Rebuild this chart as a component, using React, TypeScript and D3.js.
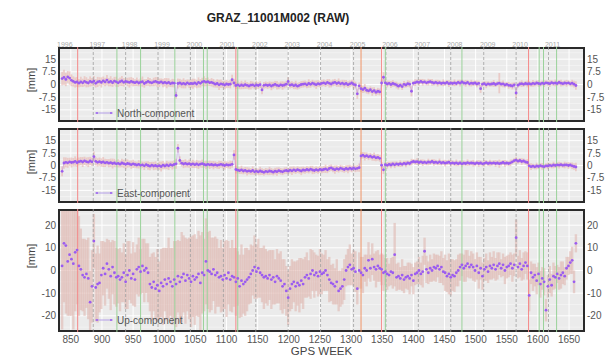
import React from 'react';
import * as d3 from 'd3';

// GPS weeks of the weekly solutions (one sample every third week)
const weeks: number[] = d3.range(836, 1662, 3);

const northMm: number[] = [
  3.5, 4.2, 3.0, 4.5, 3.8, 2.5, 1.8, 1.2, 1.5, 0.8,
  1.6, 1.0, 1.9, 1.3, 0.9, 1.8, 1.4, 2.0, 0.7, 1.5,
  1.8, 1.2, 2.2, 1.5, 2.6, 1.4, 1.9, 1.1, 2.0, 1.6,
  1.0, 1.7, 2.1, 1.3, 1.8, 1.5, 1.2, 1.9, 1.4, 1.1,
  1.6, 0.9, 1.4, 1.7, 0.6, 1.2, 1.8, 1.3, 1.0, 1.5,
  1.9, 1.4, 1.1, 1.6, 0.9, 1.3, 0.8, 1.2, 0.5, 0.9,
  0.8, -6.5, 0.6, 0.9, 0.3, 0.7, 0.2, 1.0, 0.4, 0.6,
  0.5, 0.9, 0.3, 1.2, 0.7, 1.5, 1.9, 1.4, 1.7, 1.1,
  1.3, 0.8, 0.2, 0.6, -0.2, 0.4, 0.1, -0.3, 0.3, 0.0,
  0.2, 2.8, 0.9, -0.6, -0.2, -0.8, -0.3, -0.7, -0.1, -0.5,
  -0.9, -0.4, -0.2, -0.8, -0.3, -0.6, -0.1, -3.2, -0.5, -0.2,
  -0.6, -0.2, -0.9, -0.4, 0.1, -0.5, -0.8, -0.2, -0.6, -0.3,
  0.2, 1.8, -0.4, -0.1, -0.7, -0.3, -1.0, -0.5, 0.0, 0.2,
  0.4, -0.2, 0.6, 0.1, 0.8, 0.3, -0.1, 0.5, 0.2, 0.7,
  1.0, 0.5, 1.2, 0.7, 0.3, 0.9, 1.3, 0.6, 1.1, 0.4,
  0.8, 0.2, 0.6, -0.1, 0.4, 0.9, 0.1, -0.3, -5.5, -0.8,
  -2.5, -3.0, -2.2, -3.4, -3.8, -3.1, -4.2, -3.6, -4.6, -4.0,
  -4.4, 0.9, 4.3, 1.0, 0.3, 0.7, 0.0, 0.6, 0.2, -0.3,
  -1.0, -0.4, -1.2, 0.1, -0.3, 0.5, 0.2, -4.0, 0.8, 1.1,
  1.5, 1.2, 1.8, 1.3, 1.6, 1.0, 1.4, 1.7, 1.2, 0.9,
  1.3, 0.8, 1.1, 0.6, 1.0, 0.7, 1.2, 0.5, 0.9, 0.6,
  1.0, 0.6, 1.3, 0.8, 1.5, 0.9, 0.7, 1.2, 0.4, 0.8,
  0.6, 0.9, 0.3, 0.7, -2.5, 0.2, 0.5, -0.2, 0.4, 0.1,
  0.3, 0.6, 0.0, 0.5, 0.8, 0.2, 0.4, -0.3, 0.1, -0.5,
  -0.6, -0.9, -0.2, -5.0, -0.4, 0.3, 0.5, 0.1, 0.6, 0.3,
  0.5, 0.2, 0.7, 0.4, 0.9, 0.6, 0.3, 0.8, 0.5, 1.0,
  0.8, 0.5, 1.1, 0.7, 0.9, 0.6, 1.2, 0.8, 0.5, 0.9,
  0.7, 1.0, 0.4, 0.8, 0.2, -0.6,
];

const northSigma: number[] = [
  4, 4.5, 4, 3.5, 4, 3.5, 3, 3, 3, 2.5,
  3, 2.5, 3, 3, 2.5, 3, 2.5, 3, 2.5, 3,
  2.5, 3, 2.5, 2.5, 3, 2.5, 3, 2.5, 2.5, 3,
  2.5, 2.5, 3, 2.5, 2, 2.5, 3, 2.5, 2.5, 2,
  2.5, 2, 2.5, 3, 2.5, 2, 2.5, 2.5, 2, 2.5,
  2.5, 3, 2.5, 2, 2.5, 2.5, 3, 2.5, 2, 2.5,
  2.5, 2, 3, 2.5, 2.5, 3, 2.5, 2, 2.5, 2.5,
  3, 2.5, 2.5, 3, 2.5, 2.5, 3, 2.5, 2.5, 2,
  2.5, 2.5, 2, 2.5, 3, 2.5, 2, 2.5, 2.5, 2,
  2.5, 3, 2.5, 2, 2.5, 2, 2.5, 2, 2.5, 2,
  2, 2.5, 2, 2, 2.5, 2, 2, 2.5, 2, 2,
  2, 2, 2.5, 2, 2, 2.5, 2, 2, 2.5, 2,
  2, 2.5, 2, 2, 2, 2.5, 2, 2, 2, 2,
  2, 2, 2.5, 2, 2, 2, 2.5, 2, 2, 2,
  2, 2, 2, 2.5, 2, 2, 2, 2, 2.5, 2,
  2, 2.5, 2, 2, 2, 2, 2.5, 2, 3, 2,
  2, 2, 2.5, 2, 2, 2, 2.5, 2, 2, 2,
  2, 2, 3, 2, 2, 1.5, 2, 2, 1.5, 2,
  2, 1.5, 2, 2, 1.5, 2, 2, 3, 1.5, 2,
  1.5, 2, 1.5, 2, 1.5, 1.5, 2, 1.5, 2, 1.5,
  1.5, 2, 1.5, 1.5, 2, 1.5, 1.5, 2, 1.5, 1.5,
  2, 1.5, 1.5, 2, 1.5, 1.5, 2, 1.5, 1.5, 2,
  1.5, 1.5, 2, 1.5, 2.5, 1.5, 1.5, 2, 1.5, 1.5,
  1.5, 2, 1.5, 1.5, 6, 1.5, 2, 1.5, 1.5, 2,
  1.5, 2, 1.5, 3, 1.5, 1.5, 2, 1.5, 1.5, 2,
  1.5, 1.5, 2, 1.5, 1.5, 2, 1.5, 1.5, 2, 1.5,
  1.5, 2, 1.5, 1.5, 2, 1.5, 1.5, 2, 1.5, 1.5,
  2, 1.5, 1.5, 2, 2, 2.5,
];

const eastMm: number[] = [
  -3.5, 1.5, 1.9, 1.6, 2.2, 1.8, 2.0, 2.5, 1.7, 2.3,
  2.6, 2.1, 2.8, 2.3, 2.0, 2.7, 2.2, 5.4, 2.5, 1.9,
  2.3, 1.8, 2.1, 1.6, 1.9, 1.4, 1.7, 1.2, 1.5, 1.0,
  1.3, 0.8, 1.5, 1.1, 0.7, 1.2, 0.9, 0.5, 1.0, 0.6,
  0.3, 0.7, 0.1, 0.4, -0.2, 0.5, 0.0, -0.4, 0.2, -0.3,
  0.0, -0.5, -0.1, -0.6, 0.2, -0.3, 0.3, -0.2, 0.5, 0.1,
  0.6, 1.0, 10.4, 3.0, 1.4, 0.9, 1.3, 0.8, 1.1, 0.6,
  1.0, 0.5, 0.9, 0.4, 0.8, 1.1, 0.6, 0.3, 0.7, 0.4,
  0.6, 0.2, 0.5, 0.1, 0.4, 0.7, 0.3, 0.0, 0.5, 0.2,
  0.4, 0.7, 6.4, -2.4, -2.8, -3.1, -2.6, -3.3, -2.9, -3.5,
  -3.2, -3.6, -3.0, -3.8, -3.4, -3.9, -3.3, -3.7, -4.1, -3.5,
  -3.8, -3.3, -3.6, -4.0, -3.4, -3.7, -3.1, -3.5, -3.8, -3.2,
  -3.0, -3.4, -2.8, -3.2, -2.6, -3.1, -2.5, -2.9, -3.3, -2.7,
  -2.9, -2.4, -2.8, -2.2, -2.7, -3.0, -2.5, -2.9, -2.3, -2.7,
  -2.4, -2.0, -2.6, -1.8, -1.4, -2.1, -2.5, -1.9, -2.3, -1.6,
  -2.0, -2.4, -1.8, -2.2, -1.6, -2.1, -1.5, -2.0, -1.7, -1.3,
  5.8, 6.2, 5.5, 5.9, 5.2, 5.6, 4.9, 5.3, 4.6, 4.9,
  4.3, 0.2, -2.6, 0.5, 0.1, 0.7, 0.3, 0.9, 0.4, 1.0,
  0.6, 1.1, 0.7, 1.3, 0.9, 1.5, 1.2, 2.0, 2.4, 2.1,
  2.3, 1.8, 2.2, 1.7, 2.0, 1.6, 2.1, 1.9, 2.4, 1.8,
  2.0, 1.6, 2.2, 1.5, 1.9, 1.4, 1.7, 2.0, 1.3, 1.6,
  1.2, 1.6, 1.1, 1.5, 1.0, 1.4, 1.2, 1.7, 1.3, 1.5,
  1.4, 1.1, 1.6, 1.2, 1.5, 1.0, 1.3, 1.7, 1.2, 1.5,
  1.3, 1.6, 1.2, 1.5, 1.1, 1.4, 1.8, 1.3, 1.5, 1.2,
  1.6, 2.2, 2.9, 3.3, 2.6, 3.0, 2.4, 2.7, 2.1, 1.8,
  -0.2, -0.7, -0.4, -0.8, -0.3, -0.6, -0.1, -0.5, -0.7, -0.2,
  -0.3, 0.1, -0.2, 0.3, 0.0, 0.4, 0.2, 0.5, 0.1, 0.3,
  0.4, 0.0, 0.3, -0.2, -0.6, -0.9,
];

const eastSigma: number[] = [
  3, 3.5, 3, 3, 2.5, 3, 2.5, 3, 2.5, 2.5,
  2.5, 3, 2.5, 2.5, 3, 2.5, 2.5, 3, 2.5, 2.5,
  2.5, 2.5, 3, 2.5, 2, 2.5, 2.5, 3, 2.5, 2,
  2.5, 2, 2.5, 2.5, 3, 2.5, 2, 2.5, 2.5, 2,
  2, 2.5, 2.5, 2, 2.5, 2, 2.5, 2.5, 2, 2.5,
  2.5, 2, 2.5, 3, 2.5, 2, 2.5, 2.5, 2, 2.5,
  2.5, 3, 2.5, 2.5, 2, 2.5, 2.5, 2, 2.5, 2,
  2.5, 2, 2.5, 2.5, 2, 2.5, 2, 2.5, 2, 2.5,
  2, 2.5, 2, 2, 2.5, 2, 2, 2.5, 2, 2,
  2.5, 2, 3, 2.5, 2, 2, 2.5, 2, 2, 2.5,
  2, 2, 2.5, 2, 2, 2, 2.5, 2, 2, 2,
  2, 2.5, 2, 2, 2, 2.5, 2, 2, 2, 2,
  2, 2, 2, 2.5, 2, 2, 2, 2, 2.5, 2,
  2, 2, 2, 2, 2.5, 2, 2, 2, 2, 2,
  2, 2.5, 2, 2, 2, 2, 2.5, 2, 2, 2,
  2, 2, 2, 2.5, 2, 2, 2, 2, 2, 2.5,
  2, 2, 2.5, 2, 2, 2, 2, 2.5, 2, 2,
  2, 2, 2.5, 1.5, 2, 1.5, 2, 1.5, 2, 1.5,
  1.5, 2, 1.5, 1.5, 2, 1.5, 1.5, 2, 1.5, 1.5,
  2, 1.5, 1.5, 2, 1.5, 1.5, 2, 1.5, 1.5, 2,
  1.5, 1.5, 2, 1.5, 1.5, 2, 1.5, 1.5, 2, 1.5,
  1.5, 2, 1.5, 1.5, 2, 1.5, 1.5, 2, 1.5, 1.5,
  2, 1.5, 1.5, 2, 1.5, 1.5, 2, 1.5, 1.5, 2,
  1.5, 1.5, 2, 1.5, 2.5, 1.5, 1.5, 2, 1.5, 1.5,
  2, 1.5, 1.5, 2, 1.5, 1.5, 2, 1.5, 1.5, 2,
  1.5, 2, 1.5, 1.5, 2, 1.5, 1.5, 2, 1.5, 1.5,
  2, 1.5, 1.5, 2, 1.5, 1.5, 2, 1.5, 1.5, 2,
  1.5, 2, 1.5, 2, 2, 2.5,
];

const upMm: number[] = [
  2, 12, 11, 4, 7, 5, 3, 8, 9, 2,
  0.5, -2, -3, -1.5, -3.5, -14, -7, 13, -7.5, -6,
  -5.5, -2, 1, -1.5, 3, 0.5, -2.5, 1.5, -1, -3,
  -2.5, -4, -3, -1, -5, -2, 0, -3.5, -1.5, -4,
  0.5, 1.5, -0.5, 2, 0, 1, -1, -6, -7.5, -5,
  -8, -6.5, -9, -5.5, -7, -4, -6, -3.5, -5, -7,
  -4, -6, -2.5, -5, -3, -1.5, -4.5, -2, -3.5, -5,
  -2.5, -4, -3, -1.5, -5.5, -1, -2, 4, 0, -0.5,
  -1.5, 0.5, -2, -1, -3, -2.5, -4, -2, -3.5, -1,
  -4, -2.5, -3, -5, -3.5, -7, -4.5, -6, -5, -4,
  -3, -1.5, 0, 1.5, -0.5, 1, -1, -2, -3, -2.5,
  -3.5, -2, -4, -3, -5, -2.5, -3.5, -4.5, -7, -6,
  -9, -12, -8, -6, -5, -7, -5.5, -6.5, -4.5, -6,
  -3, -2, -3.5, -1.5, 0, -2, -1, -2.5, -0.5, -1.5,
  -1, 0, -2, -4, -5.5, -6, -7, -5, -9, -8,
  -7, -4, 0, 1.5, 2.5, 0.5, 1, -0.5, -8, 0,
  -1, -2, 1, 0, 4.5, 1, 5, 1.5, 0.5, 2,
  1, 0.5, -1, -0.5, -1.5, -2, -0.5, -1, 7, -3,
  -2.5, -3.5, -2, -4, -3, -2.5, -3.5, -2, -4.5, -1.5,
  -1, 0, -1.5, -0.5, 8.5, 0.5, -1, 1, 0, 1.5,
  1, 2, 0.5, 1.5, -0.5, -1, -2.5, -1.5, -3, -2,
  -2.5, -1, 0, 1.5, 2.5, 1, 2, 3, 1.5, 2.5,
  1.5, 0, 2, -1, 1, -2.5, 0.5, 1.5, -0.5, 2,
  1, 2.5, 0.5, 2, 3, 1, 2.5, 0, 1.5, 2,
  3, 1, 2.5, 14.5, 1.5, 3, 0.5, 2, 3.5, 2,
  -11, -1, -3, -2, -4.5, -1.5, -6, -3.5, -5, -17.5,
  -7, -4, -6.5, -2.5, -3, -1.5, -3.5, -2, -1, -2.5,
  1, 2, 3.5, 4.5, -5, 12,
];

const upSigma: number[] = [
  28, 26, 30, 24, 27, 25, 29, 26, 24, 22,
  18, 16, 17, 15, 18, 14, 16, 12, 15, 17,
  13, 15, 12, 14, 11, 13, 15, 12, 14, 13,
  12, 14, 11, 13, 12, 15, 13, 11, 14, 12,
  11, 13, 10, 12, 14, 11, 13, 12, 15, 13,
  14, 16, 13, 15, 17, 14, 16, 18, 15, 17,
  17, 19, 16, 18, 20, 17, 19, 16, 18, 20,
  18, 20, 17, 19, 21, 18, 16, 19, 17, 18,
  16, 14, 17, 15, 13, 16, 14, 15, 17, 14,
  14, 16, 13, 15, 12, 14, 16, 13, 15, 14,
  12, 13, 11, 14, 12, 13, 11, 12, 14, 12,
  12, 11, 13, 12, 10, 12, 11, 13, 12, 11,
  11, 12, 10, 11, 9, 11, 10, 12, 10, 11,
  9, 10, 8, 11, 9, 10, 8, 9, 10, 9,
  8, 9, 7, 10, 8, 9, 8, 10, 9, 8,
  8, 9, 7, 8, 9, 7, 8, 9, 7, 8,
  7, 8, 6, 7, 8, 6, 7, 6, 8, 7,
  6, 7, 8, 6, 7, 5, 6, 7, 14, 6,
  6, 5, 7, 6, 5, 6, 7, 5, 6, 5,
  5, 6, 5, 7, 6, 6, 5, 6, 5, 6,
  6, 5, 6, 7, 6, 8, 7, 9, 8, 7,
  7, 6, 7, 6, 5, 6, 7, 6, 5, 6,
  6, 5, 6, 7, 5, 6, 5, 6, 5, 6,
  5, 6, 5, 6, 5, 4, 5, 6, 5, 5,
  5, 6, 5, 8, 5, 6, 5, 6, 5, 6,
  7, 5, 6, 5, 6, 5, 6, 5, 6, 5,
  5, 6, 5, 6, 5, 4, 5, 6, 5, 4,
  5, 4, 5, 6, 5, 4,
];

// Station events (equipment changes / discontinuities), GPS week
const redWeeks: number[] = [861, 1115, 1349, 1585];
const orangeWeeks: number[] = [1316];
const greenWeeks: number[] = [924, 962, 1017, 1063, 1069, 1118, 1355, 1478, 1602, 1609, 1630];

// First GPS week of each calendar year
const years: number[] = [1996, 1997, 1998, 1999, 2000, 2001, 2002, 2003, 2004, 2005, 2006, 2007, 2008, 2009, 2010, 2011];
const yearStartWeeks: number[] = [834, 886, 938, 990, 1042, 1095, 1147, 1199, 1251, 1304, 1356, 1408, 1460, 1513, 1565, 1617];

const weekTicks: number[] = d3.range(850, 1651, 50);
const horizTicks: number[] = [15, 7.5, 0, -7.5, -15];
const upTicks: number[] = [20, 10, 0, -10, -20];

const W = 606;
const H = 356;
const X0 = 59;
const X1 = 584;
const FONT = "'Liberation Sans', Arial, sans-serif";
const PURPLE = '#9b5cf0';

const x = d3.scaleLinear().domain([831, 1674]).range([X0, X1]);

type PanelSpec = {
  id: string;
  name: string;
  values: number[];
  sigma: number[];
  top: number;
  bottom: number;
  lim: number;
  ticks: number[];
  unitY: number;
  legendY: number;
  connect: boolean;
};

const panels: PanelSpec[] = [
  { id: 'n', name: 'North-component', values: northMm, sigma: northSigma, top: 48, bottom: 121, lim: 21.6, ticks: horizTicks, unitY: 80, legendY: 113, connect: true },
  { id: 'e', name: 'East-component', values: eastMm, sigma: eastSigma, top: 129, bottom: 202, lim: 22, ticks: horizTicks, unitY: 162, legendY: 193, connect: true },
  { id: 'u', name: 'Up-component', values: upMm, sigma: upSigma, top: 210, bottom: 331, lim: 26.7, ticks: upTicks, unitY: 256, legendY: 320, connect: false },
];

function Panel({ p }: { p: PanelSpec }) {
  const y = d3.scaleLinear().domain([-p.lim, p.lim]).range([p.bottom, p.top]);
  const pts = weeks.map((w, i) => ({ w, v: p.values[i], s: p.sigma[i] }));
  const line = d3
    .line<{ w: number; v: number }>()
    .x((d) => x(d.w))
    .y((d) => y(d.v));
  const clip = `clip-${p.id}`;
  const isUp = p.id === 'u';
  const step = p.ticks[0] - p.ticks[1];
  const minor: number[] = [];
  for (let t = p.ticks[p.ticks.length - 1] - step / 2; t <= p.ticks[0] + step / 2 + 1e-6; t += step) minor.push(t);

  return (
    <g>
      <defs>
        <clipPath id={clip}>
          <rect x={X0} y={p.top} width={X1 - X0} height={p.bottom - p.top} />
        </clipPath>
      </defs>
      <rect x={X0} y={p.top} width={X1 - X0} height={p.bottom - p.top} fill="#ebebeb" />
      {/* grid */}
      {minor.map((t) => (
        <line key={`mn${t}`} x1={X0} x2={X1} y1={y(t)} y2={y(t)} stroke="#f6f6f6" strokeWidth={0.6} />
      ))}
      {p.ticks.map((t) => (
        <line key={`h${t}`} x1={X0} x2={X1} y1={y(t)} y2={y(t)} stroke="#ffffff" strokeWidth={1} />
      ))}
      {weekTicks.map((t) => (
        <line key={`v${t}`} x1={x(t)} x2={x(t)} y1={p.top} y2={p.bottom} stroke="#ffffff" strokeWidth={1} />
      ))}
      <g clipPath={`url(#${clip})`}>
        {/* error bars */}
        {pts.map((d) => (
          <line
            key={`e${d.w}`}
            x1={x(d.w)}
            x2={x(d.w)}
            y1={y(d.v - d.s)}
            y2={y(d.v + d.s)}
            stroke={isUp ? '#e0b8b0' : '#e8b8b4'}
            strokeOpacity={isUp ? 0.6 : 0.65}
            strokeWidth={isUp ? 2.4 : 1.8}
          />
        ))}
      </g>
      {/* frame */}
      <rect x={X0} y={p.top} width={X1 - X0} height={p.bottom - p.top} fill="none" stroke="#2a2a2a" strokeWidth={2} />
      {/* year boundaries */}
      {yearStartWeeks.filter((w) => x(w) > X0 + 2).map((w) => (
        <line key={`y${w}`} x1={x(w)} x2={x(w)} y1={p.top - 1} y2={p.bottom + 1} stroke="#a0a0a0" strokeWidth={0.8} strokeDasharray="3,2" />
      ))}
      {/* station events */}
      {greenWeeks.map((w) => (
        <line key={`g${w}`} x1={x(w)} x2={x(w)} y1={p.top - 1} y2={p.bottom + 1} stroke="#9ad29a" strokeWidth={1} />
      ))}
      {redWeeks.map((w) => (
        <line key={`r${w}`} x1={x(w)} x2={x(w)} y1={p.top - 1} y2={p.bottom + 1} stroke="#f58888" strokeWidth={1} />
      ))}
      {orangeWeeks.map((w) => (
        <line key={`o${w}`} x1={x(w)} x2={x(w)} y1={p.top - 1} y2={p.bottom + 1} stroke="#f09468" strokeWidth={1} />
      ))}
      <g clipPath={`url(#${clip})`}>
        {p.connect && <path d={line(pts) || ''} fill="none" stroke={PURPLE} strokeWidth={0.7} strokeOpacity={0.4} />}
        {pts.map((d) => (
          <circle key={`p${d.w}`} cx={x(d.w)} cy={y(d.v)} r={isUp ? 1.4 : 1.4} fill={PURPLE} />
        ))}
      </g>
      {/* tick labels, both sides */}
      {p.ticks.map((t) => (
        <g key={`tl${t}`} fontFamily={FONT} fontSize={10} fill="#555">
          <text x={X0 - 3} y={y(t)} dy="0.35em" textAnchor="end">{t}</text>
          <text x={X1 + 3} y={y(t)} dy="0.35em" textAnchor="start">{t}</text>
        </g>
      ))}
      <text
        transform={`translate(31,${p.unitY}) rotate(-90)`}
        textAnchor="middle"
        dy="0.35em"
        fontFamily={FONT}
        fontSize={11}
        fill="#444"
      >
        [mm]
      </text>
      {/* legend */}
      <line x1={95} x2={113} y1={p.legendY} y2={p.legendY} stroke="#a58ae6" strokeWidth={0.8} />
      <circle cx={97} cy={p.legendY} r={1} fill={PURPLE} />
      <circle cx={111} cy={p.legendY} r={1} fill={PURPLE} />
      <text x={117} y={p.legendY} dy="0.35em" fontFamily={FONT} fontSize={10} fill="#555">
        {p.name}
      </text>
    </g>
  );
}

export default function App() {
  return (
    <svg width={W} height={H} style={{ position: 'absolute', left: 0, top: 0, background: '#fff' }}>
      <rect width={W} height={H} fill="#fff" />
      <text x={278} y={22} textAnchor="middle" fontFamily={FONT} fontWeight="bold" fontSize={12} fill="#222">
        GRAZ_11001M002 (RAW)
      </text>
      {years.map((yr, i) => (
        <text key={yr} x={x(yearStartWeeks[i]) + 4} y={47} textAnchor="middle" fontFamily={FONT} fontSize={7} fill="#aaa">
          {yr}
        </text>
      ))}
      {panels.map((p) => (
        <Panel key={p.id} p={p} />
      ))}
      {weekTicks.map((t) => (
        <text key={`xt${t}`} x={x(t)} y={343} textAnchor="middle" fontFamily={FONT} fontSize={10} fill="#555">
          {t}
        </text>
      ))}
      <text x={(X0 + X1) / 2} y={355} textAnchor="middle" fontFamily={FONT} fontSize={11.5} fill="#444">
        GPS WEEK
      </text>
    </svg>
  );
}
